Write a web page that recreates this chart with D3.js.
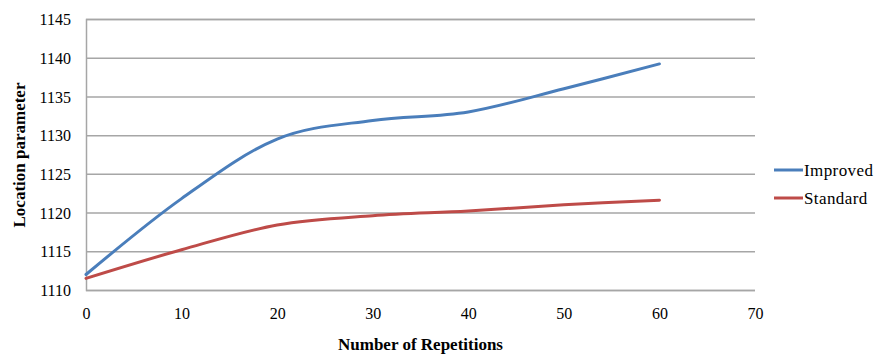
<!DOCTYPE html>
<html>
<head>
<meta charset="utf-8">
<script src="https://cdn.jsdelivr.net/npm/d3@7"></script>
<style>
  html, body { margin: 0; padding: 0; background: #fff; }
  svg { display: block; }
  text { font-family: "Liberation Serif", "DejaVu Serif", serif; fill: #000; }
</style>
</head>
<body>
<svg id="chart" width="883" height="354"></svg>
<script>
// Repetition counts and location-parameter estimates for each method
const repetitions = [0, 10, 20, 30, 40, 50, 60];
const improvedValues = [1112.0, 1121.8, 1129.5, 1131.9, 1133.0, 1136.0, 1139.2];
const standardValues = [1111.5, 1115.2, 1118.4, 1119.6, 1120.2, 1121.0, 1121.6];
const seriesNames = ["Improved", "Standard"];
const seriesColors = ["#4a7ebb", "#be4b48"];
const xTicks = [0, 10, 20, 30, 40, 50, 60, 70];
const yTicks = [1110, 1115, 1120, 1125, 1130, 1135, 1140, 1145];

const svg = d3.select("#chart");
const plot = { left: 86, right: 755, top: 19, bottom: 290 };

const x = d3.scaleLinear().domain([0, 70]).range([plot.left, plot.right]);
const y = d3.scaleLinear().domain([1110, 1145]).range([plot.bottom, plot.top]);

// Horizontal gridlines (no tick marks, gray rule)
const yAxis = d3.axisLeft(y).tickValues(yTicks).tickSize(-(plot.right - plot.left)).tickPadding(15).tickFormat(d3.format("d"));
const gy = svg.append("g").attr("transform", `translate(${plot.left},0)`).call(yAxis);
gy.select(".domain").attr("stroke", "#a6a6a6").attr("stroke-width", 1.5);
gy.selectAll(".tick line").attr("stroke", "#a6a6a6").attr("stroke-width", 1.5);
gy.selectAll(".tick text").attr("font-size", 16).attr("font-family", "Liberation Serif").attr("dy", "0.35em");

const xAxis = d3.axisBottom(x).tickValues(xTicks).tickSize(0).tickPadding(18).tickFormat(d3.format("d"));
const gx = svg.append("g").attr("transform", `translate(0,${plot.bottom})`).call(xAxis);
gx.select(".domain").remove();
gx.selectAll(".tick text").attr("font-size", 16).attr("font-family", "Liberation Serif");

// Series lines, smoothed
const line = d3.line()
  .x((d, i) => x(repetitions[i]))
  .y(d => y(d))
  .curve(d3.curveCatmullRom.alpha(0));

const series = [improvedValues, standardValues];
series.forEach((vals, k) => {
  svg.append("path")
    .datum(vals)
    .attr("d", line)
    .attr("fill", "none")
    .attr("stroke", seriesColors[k])
    .attr("stroke-width", 3)
    .attr("stroke-linecap", "round");
});

// Legend
const legend = svg.append("g");
seriesNames.forEach((name, k) => {
  const ly = 170 + k * 28;
  legend.append("line")
    .attr("x1", 774).attr("x2", 803)
    .attr("y1", ly).attr("y2", ly)
    .attr("stroke", seriesColors[k]).attr("stroke-width", 3);
  legend.append("text")
    .attr("x", 804).attr("y", ly)
    .attr("dy", "0.35em")
    .attr("font-size", 17)
    .attr("letter-spacing", 0.4)
    .text(name);
});

// Axis titles
svg.append("text")
  .attr("x", (plot.left + plot.right) / 2)
  .attr("y", 350)
  .attr("text-anchor", "middle")
  .attr("font-size", 17)
  .attr("font-weight", "bold")
  .text("Number of Repetitions");

svg.append("text")
  .attr("transform", `translate(25,155) rotate(-90)`)
  .attr("text-anchor", "middle")
  .attr("font-size", 17)
  .attr("font-weight", "bold")
  .text("Location parameter");
</script>
</body>
</html>
